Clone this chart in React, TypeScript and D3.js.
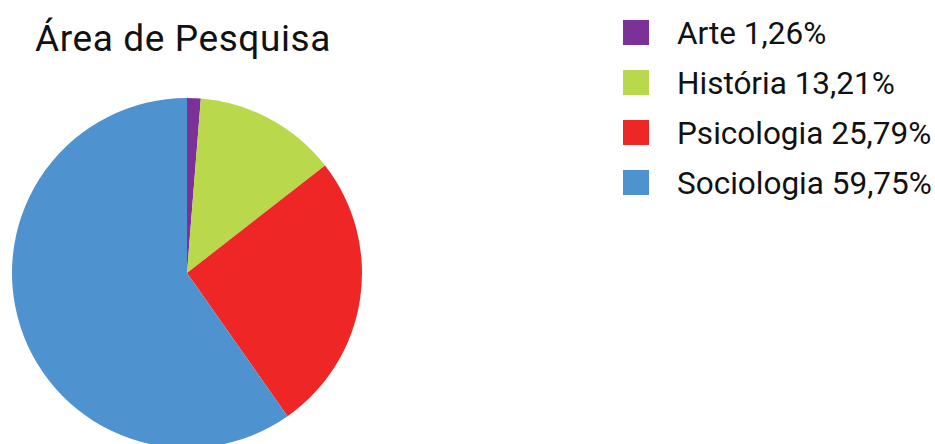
import * as d3 from 'd3';

const categories = ['Arte', 'História', 'Psicologia', 'Sociologia'];
const values = [1.26, 13.21, 25.79, 59.75];
const colors = ['#7b3198', '#b9d84b', '#ee2626', '#4f92d0'];

const App = () => {
  const width = 935;
  const height = 444;
  const cx = 187;
  const cy = 273;
  const r = 175;

  const pie = d3.pie<number>().sort(null).value((d) => d);
  const arc = d3.arc<d3.PieArcDatum<number>>().innerRadius(0).outerRadius(r);
  const arcs = pie(values);

  return (
    <svg
      width={width}
      height={height}
      style={{ position: 'absolute', left: 0, top: 0, background: '#fff' }}
      fontFamily='Roboto'
    >
      <text x={35} y={51} fontSize={37} letterSpacing={0.6} fill='#111'>
        Área de Pesquisa
      </text>
      <g transform={`translate(${cx},${cy})`}>
        {arcs.map((a, i) => (
          <path key={categories[i]} d={arc(a) || ''} fill={colors[i]} />
        ))}
      </g>
      <g>
        {categories.map((c, i) => (
          <g key={c} transform={`translate(623,${20 + i * 50})`}>
            <rect width={26} height={25} fill={colors[i]} />
            <text x={54} y={23.5} fontSize={31.5} fill='#111'>
              {c} {values[i].toFixed(2).replace('.', ',')}%
            </text>
          </g>
        ))}
      </g>
    </svg>
  );
};

export default App;
